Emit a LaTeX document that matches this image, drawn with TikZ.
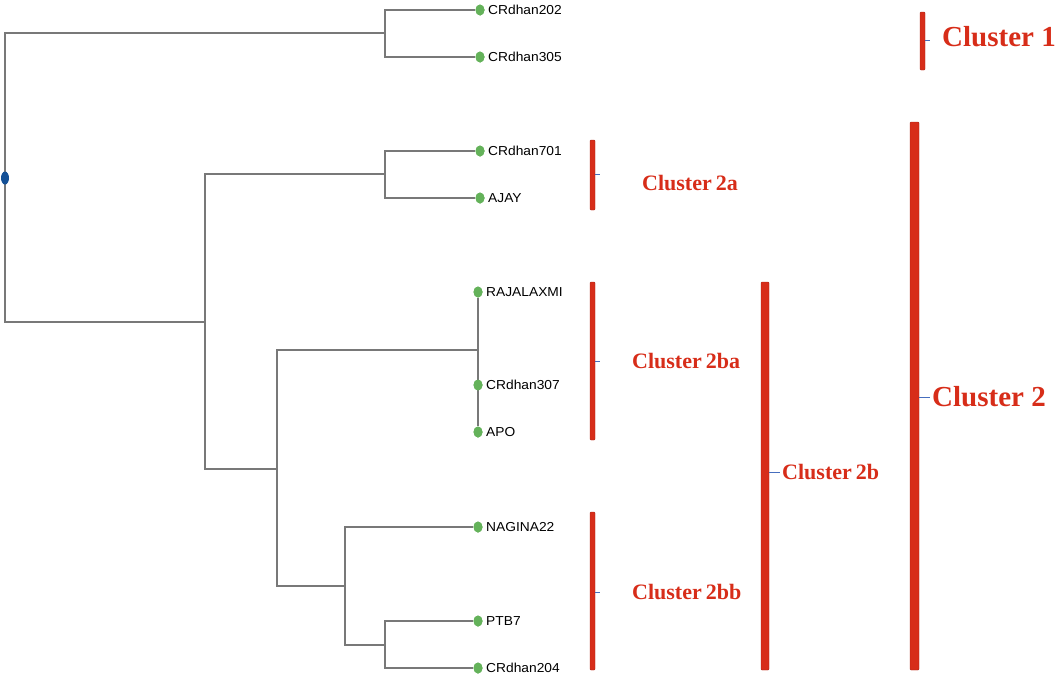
\documentclass[tikz,border=0pt]{standalone}
\usepackage{fontspec}
\setmainfont{Liberation Serif}
\newfontfamily\leaffont{Liberation Sans}
\usetikzlibrary{shapes.geometric}
\definecolor{branch}{RGB}{120,120,120}
\definecolor{leafgreen}{RGB}{100,178,90}
\definecolor{clred}{RGB}{215,45,25}
\definecolor{tickblue}{RGB}{70,110,190}
\definecolor{rootblue}{RGB}{20,80,150}
\begin{document}
\begin{tikzpicture}[x=1pt,y=-1pt,
  br/.style={draw=branch,line width=2.2pt},
  leafdot/.style={ellipse,fill=leafgreen,inner sep=0pt,minimum width=9pt,minimum height=11pt},
  leaflab/.style={anchor=west,inner sep=0pt,font=\leaffont\fontsize{13}{13}\selectfont,xscale=1.06},
  bar/.style={fill=clred,draw=clred!80!black,line width=0.4pt,rounded corners=1pt},
  tick/.style={draw=tickblue,line width=1pt},
  biglab/.style={anchor=west,inner sep=0pt,text=clred,font=\bfseries\fontsize{29}{29}\selectfont},
  smalllab/.style={anchor=west,inner sep=0pt,text=clred,font=\bfseries\fontsize{22}{22}\selectfont}]
\useasboundingbox (0,0) rectangle (1057,675);
% internal nodes
\coordinate (root) at (5,178);
\coordinate (c1) at (385,33);
\coordinate (c2) at (205,322);
\coordinate (c2a) at (385,174);
\coordinate (c2b) at (277,469);
\coordinate (c2ba) at (478,350);
\coordinate (c2bb) at (345,586);
\coordinate (c2bbb) at (385,645);
% leaves
\node[leafdot] (l1) at (480,10) {};
\node[leafdot] (l2) at (480,57) {};
\node[leafdot] (l3) at (480,151) {};
\node[leafdot] (l4) at (480,198) {};
\node[leafdot] (l5) at (478,292) {};
\node[leafdot] (l6) at (478,385) {};
\node[leafdot] (l7) at (478,432) {};
\node[leafdot] (l8) at (478,527) {};
\node[leafdot] (l9) at (478,621) {};
\node[leafdot] (l10) at (478,668) {};
% branches
\draw[br] (root) |- (c1);
\draw[br] (root) |- (c2);
\draw[br] (c1) |- (l1.west);
\draw[br] (c1) |- (l2.west);
\draw[br] (c2) |- (c2a);
\draw[br] (c2) |- (c2b);
\draw[br] (c2a) |- (l3.west);
\draw[br] (c2a) |- (l4.west);
\draw[br] (c2b) |- (c2ba);
\draw[br] (c2b) |- (c2bb);
\draw[br] (c2ba) -- (l5.south);
\draw[br] (c2ba) -- (l7.north);
\draw[br] (c2bb) |- (l8.west);
\draw[br] (c2bb) |- (c2bbb);
\draw[br] (c2bbb) |- (l9.west);
\draw[br] (c2bbb) |- (l10.west);
% redraw dots on top
\foreach \n in {l1,l2,l3,l4,l5,l6,l7,l8,l9,l10} \fill[leafgreen] (\n) ellipse (4.5pt and 5.5pt);
\node[ellipse,fill=rootblue,inner sep=0pt,minimum width=8pt,minimum height=13pt] (rootdot) at (root) {};
% leaf labels
\node[leaflab] (t1) at (488,10) {CRdhan202};
\node[leaflab] (t2) at (488,57) {CRdhan305};
\node[leaflab] (t3) at (488,151) {CRdhan701};
\node[leaflab] (t4) at (488,198) {AJAY};
\node[leaflab] (t5) at (486,292) {RAJALAXMI};
\node[leaflab] (t6) at (486,385) {CRdhan307};
\node[leaflab] (t7) at (486,432) {APO};
\node[leaflab] (t8) at (486,527) {NAGINA22};
\node[leaflab] (t9) at (486,621) {PTB7};
\node[leaflab] (t10) at (486,668) {CRdhan204};
% cluster bars
\draw[bar] (920,12) rectangle (925,70);
\draw[tick] (925,40) -- (930,40);
\node[biglab] (k1) at (942,37) {Cluster 1};
\draw[bar] (910,122) rectangle (919,670);
\draw[tick] (919,397) -- (930,397);
\node[biglab] (k2) at (932,397) {Cluster 2};
\draw[bar] (590,140) rectangle (595,210);
\draw[tick] (595,174) -- (600,174);
\node[smalllab] (k2a) at (642,183) {Cluster\hspace{-1.5pt} 2a};
\draw[bar] (590,282) rectangle (595,440);
\draw[tick] (595,361) -- (600,361);
\node[smalllab] (k2ba) at (632,361) {Cluster\hspace{-1.5pt} 2ba};
\draw[bar] (590,512) rectangle (595,670);
\draw[tick] (595,592) -- (600,592);
\node[smalllab] (k2bb) at (632,592) {Cluster\hspace{-1.5pt} 2bb};
\draw[bar] (761,282) rectangle (769,670);
\draw[tick] (769,472) -- (780,472);
\node[smalllab] (k2b) at (782,472) {Cluster\hspace{-1.5pt} 2b};
\end{tikzpicture}
\end{document}
